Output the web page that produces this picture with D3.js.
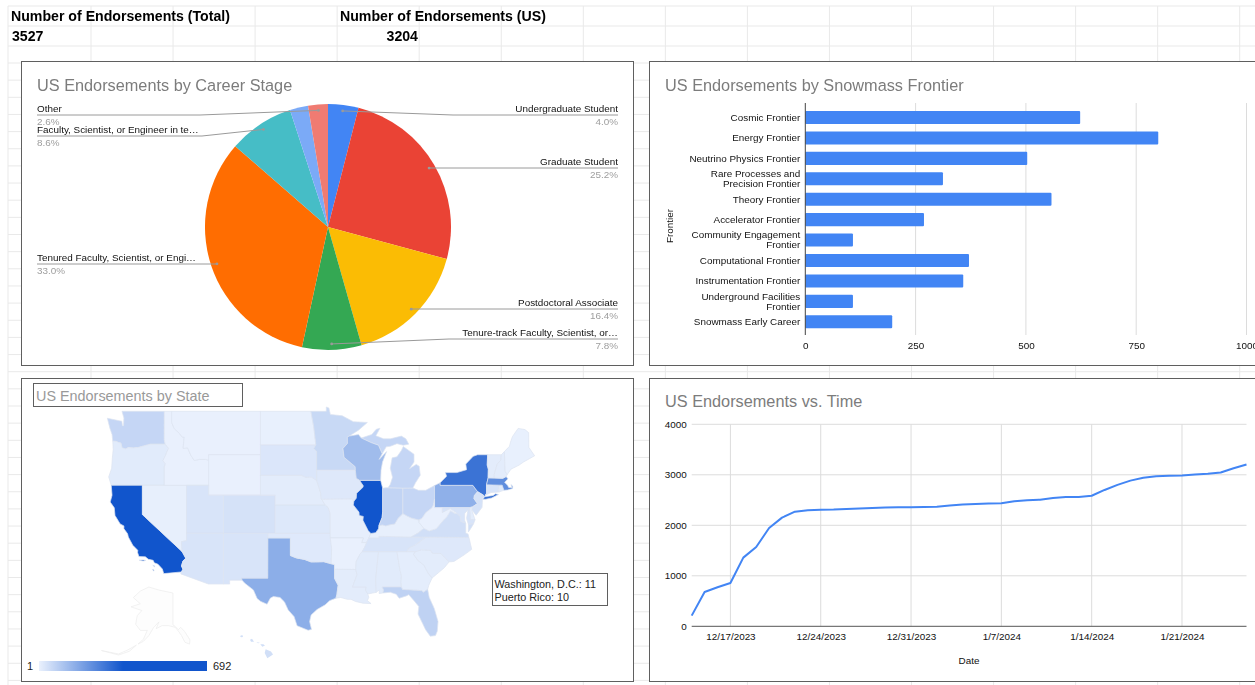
<!DOCTYPE html>
<html lang="en">
<head>
  <meta charset="utf-8">
  <title>US Endorsements</title>
  <script src="https://d3js.org/d3.v7.min.js"></script>
  <style>
    html, body { margin: 0; padding: 0; background: #fff; overflow: hidden; }
    svg { display: block; font-family: "Liberation Sans", Arial, sans-serif; filter: blur(0.45px); }
    .sheet-text { font-size: 14.15px; font-weight: bold; fill: #000; }
    .panel { fill: #fff; stroke: #5f5f5f; stroke-width: 1; }
    .chart-title { font-size: 16.3px; fill: #7c7c7c; }
    .small { font-size: 9.9px; fill: #111; }
    .pct { font-size: 9.9px; fill: #9e9e9e; }
    .grid line { stroke: #dcdcdc; stroke-width: 1; }
    .axis text { font-size: 9.9px; fill: #111; }
    .axis path, .axis line { display: none; }
  </style>
</head>
<body>
  <svg id="sheet" width="1255" height="685"></svg>

  <script>
    // ---- data ----
    const totalEndorsements = 3527;
    const usEndorsements = 3204;

    const careerStages = ['Undergraduate Student', 'Graduate Student', 'Postdoctoral Associate',
      'Tenure-track Faculty, Scientist, or…', 'Tenured Faculty, Scientist, or Engi…',
      'Faculty, Scientist, or Engineer in te…', '', 'Other'];
    const careerPercents = [4.0, 25.2, 16.4, 7.8, 33.0, 8.6, 2.4, 2.6];
    const careerColors = ['#4285f4', '#ea4335', '#fbbc04', '#34a853', '#ff6d01', '#46bdc6', '#7baaf7', '#f07b72'];

    const frontiers = ['Cosmic Frontier', 'Energy Frontier', 'Neutrino Physics Frontier',
      'Rare Processes and\nPrecision Frontier', 'Theory Frontier', 'Accelerator Frontier',
      'Community Engagement\nFrontier', 'Computational Frontier', 'Instrumentation Frontier',
      'Underground Facilities\nFrontier', 'Snowmass Early Career'];
    const frontierCounts = [623, 800, 503, 312, 558, 269, 108, 371, 358, 108, 197];
    const frontierTicks = [0, 250, 500, 750, 1000];

    // one value per day, 12/14/2023 to 1/26/2024
    const cumulativeCounts = [211, 680, 772, 858, 1360, 1571, 1947, 2152, 2270, 2297, 2310, 2312, 2323, 2335,
      2345, 2352, 2355, 2358, 2362, 2368, 2392, 2412, 2422, 2430, 2436, 2478, 2495, 2508, 2540, 2558, 2560,
      2585, 2700, 2800, 2885, 2940, 2972, 2980, 2988, 3005, 3020, 3045, 3130, 3204];
    const countTicks = [0, 1000, 2000, 3000, 4000];

    const stateValues = {
      WA: 60, OR: 15, CA: 692, NV: 5, ID: 3, MT: 3, WY: 3, UT: 30, CO: 35, AZ: 30, NM: 30, ND: 4, SD: 25,
      NE: 12, KS: 22, OK: 18, TX: 150, MN: 55, IA: 20, MO: 8, AR: 3, LA: 12, WI: 118, IL: 460, IN: 65,
      OH: 60, MI: 60, KY: 6, TN: 30, MS: 15, AL: 15, GA: 10, FL: 70, SC: 12, NC: 20, VA: 40, WV: 3,
      PA: 145, NY: 280, MD: 30, DE: 10, NJ: 35, CT: 30, RI: 15, MA: 220, VT: 12, NH: 12, ME: 4, HI: 40
    };
    const mapNotes = ['Washington, D.C.: 11', 'Puerto Rico: 10'];

    // rough state outlines, [lon, lat]
    const stateOutlines = {
      WA: [[[-124.73,48.38],[-123.1,48.15],[-122.78,48.12],[-122.7,47.7],[-122.55,47.7],[-122.5,48.4],[-122.76,49],[-117.03,49],[-117.04,46.42],[-116.92,46],[-118.98,46],[-119.3,45.93],[-120.5,45.7],[-121.2,45.65],[-121.9,45.68],[-122.3,45.55],[-122.75,45.65],[-122.9,46.1],[-123.2,46.15],[-123.55,46.26],[-124,46.27],[-124.1,46.9],[-124.4,47.5]]],
      OR: [[[-124,46.27],[-123.55,46.26],[-123.2,46.15],[-122.9,46.1],[-122.75,45.65],[-122.3,45.55],[-121.9,45.68],[-121.2,45.65],[-120.5,45.7],[-119.3,45.93],[-118.98,46],[-116.92,46],[-116.46,45.61],[-116.67,45.32],[-116.85,44.98],[-117.22,44.44],[-117.03,44.25],[-116.9,44.15],[-117.03,43.83],[-117.03,42],[-124.21,42],[-124.55,42.84],[-124.15,43.7],[-124.07,44.6],[-123.95,45.5]]],
      CA: [[[-124.21,42],[-120,42],[-120,39],[-114.63,35],[-114.14,34.27],[-114.52,33.95],[-114.72,33.4],[-114.52,33.03],[-114.72,32.72],[-117.12,32.53],[-117.3,33.05],[-117.9,33.6],[-118.4,33.75],[-118.55,34.03],[-119.2,34.15],[-119.6,34.42],[-120.47,34.45],[-120.65,34.9],[-120.63,35.15],[-121.3,35.7],[-121.9,36.6],[-122,36.95],[-122.5,37.5],[-122.5,37.8],[-123,38],[-123.7,38.9],[-123.8,39.7],[-124.35,40.3],[-124.1,41]],
        [[-120.45,34.05],[-119.9,34.08],[-119.55,34.02],[-119.9,33.95]], [[-118.6,33.47],[-118.35,33.4],[-118.35,33.3]], [[-118.6,33.05],[-118.4,32.85],[-118.55,32.85]]],
      NV: [[[-120,42],[-114.04,42],[-114.04,36.2],[-114.74,36.1],[-114.63,35],[-120,39]]],
      ID: [[[-117.03,49],[-116.05,49],[-116.05,48],[-115.7,47.45],[-115,47],[-114.6,46.65],[-114.35,46.65],[-114.5,45.6],[-113.9,45.65],[-113.45,44.95],[-113,44.45],[-112.3,44.55],[-111.5,44.55],[-111.05,44.48],[-111.05,42],[-117.03,42],[-117.03,43.83],[-116.9,44.15],[-117.03,44.25],[-117.22,44.44],[-116.85,44.98],[-116.67,45.32],[-116.46,45.61],[-116.92,46],[-117.04,46.42]]],
      MT: [[[-116.05,49],[-104.05,49],[-104.05,45],[-111.05,45],[-111.05,44.48],[-111.5,44.55],[-112.3,44.55],[-113,44.45],[-113.45,44.95],[-113.9,45.65],[-114.5,45.6],[-114.35,46.65],[-114.6,46.65],[-115,47],[-115.7,47.45],[-116.05,48]]],
      WY: [[[-111.05,45],[-104.05,45],[-104.05,41],[-111.05,41]]],
      UT: [[[-114.04,42],[-111.05,42],[-111.05,41],[-109.05,41],[-109.05,37],[-114.04,37]]],
      CO: [[[-109.05,41],[-102.05,41],[-102.05,37],[-109.05,37]]],
      AZ: [[[-114.04,37],[-109.05,37],[-109.05,31.33],[-111.07,31.33],[-114.81,32.5],[-114.72,32.72],[-114.52,33.03],[-114.72,33.4],[-114.52,33.95],[-114.14,34.27],[-114.63,35],[-114.74,36.1],[-114.04,36.2]]],
      NM: [[[-109.05,37],[-103,37],[-103.06,32],[-106.62,32],[-106.53,31.78],[-108.21,31.78],[-108.21,31.33],[-109.05,31.33]]],
      TX: [[[-106.62,32],[-103.06,32],[-103.04,36.5],[-100,36.5],[-100,34.56],[-99.2,34.3],[-98.1,34.13],[-97.2,33.85],[-96.6,33.85],[-95.5,33.88],[-94.48,33.64],[-94.04,33.55],[-94.04,33.02],[-94.04,31.99],[-93.55,31.2],[-93.72,30.1],[-93.84,29.69],[-94.7,29.4],[-95.3,28.9],[-96.4,28.35],[-97.2,27.7],[-97.4,26.9],[-97.15,25.96],[-97.6,25.85],[-99.1,26.4],[-99.5,27.5],[-100.3,28.3],[-100.8,29.25],[-101.4,29.77],[-102.3,29.88],[-102.7,29.7],[-103.15,28.98],[-104,29.3],[-104.5,29.65],[-105,30.65],[-106.2,31.45],[-106.53,31.78]]],
      OK: [[[-103,37],[-94.62,37],[-94.43,35.4],[-94.48,33.64],[-95.5,33.88],[-96.6,33.85],[-97.2,33.85],[-98.1,34.13],[-99.2,34.3],[-100,34.56],[-100,36.5],[-103.04,36.5]]],
      KS: [[[-102.05,40],[-95.3,40],[-94.9,39.75],[-94.62,39.1],[-94.62,37],[-102.05,37]]],
      NE: [[[-104.05,43],[-98.5,43],[-97.9,42.8],[-97.2,42.85],[-96.45,42.49],[-96.1,41.7],[-95.9,41.2],[-95.85,40.7],[-95.3,40],[-102.05,40],[-102.05,41],[-104.05,41]]],
      SD: [[[-104.05,45.94],[-96.56,45.94],[-96.85,45.6],[-96.45,45.3],[-96.45,43.5],[-96.45,42.49],[-97.2,42.85],[-97.9,42.8],[-98.5,43],[-104.05,43]]],
      ND: [[[-104.05,49],[-97.23,49],[-96.85,47.6],[-96.56,45.94],[-104.05,45.94]]],
      MN: [[[-97.23,49],[-95.15,49],[-95.15,49.38],[-94.8,49.3],[-94.6,48.72],[-93,48.6],[-91.5,48.07],[-89.6,48],[-90.8,47.3],[-92.05,46.75],[-92.3,46.66],[-92.29,46.07],[-92.9,45.6],[-92.75,44.75],[-91.25,43.85],[-91.22,43.5],[-96.45,43.5],[-96.45,45.3],[-96.85,45.6],[-96.56,45.94],[-96.85,47.6]]],
      IA: [[[-96.45,43.5],[-91.22,43.5],[-91.1,42.7],[-90.65,42.5],[-90.15,41.95],[-90.2,41.8],[-91.05,41.2],[-91.1,40.7],[-91.42,40.38],[-91.73,40.61],[-95.77,40.58],[-95.85,40.7],[-95.9,41.2],[-96.1,41.7],[-96.45,42.49]]],
      MO: [[[-95.77,40.58],[-91.73,40.61],[-91.42,40.38],[-91.5,40],[-90.73,39.25],[-90.7,38.9],[-90.15,38.8],[-90.2,38.4],[-89.5,37.3],[-89.13,36.98],[-89.4,36.5],[-89.7,36],[-90.37,36],[-90.15,36.5],[-94.62,36.5],[-94.62,39.1],[-94.9,39.75],[-95.3,40]]],
      AR: [[[-94.62,36.5],[-90.15,36.5],[-90.37,36],[-89.7,36],[-89.95,35.5],[-90.3,35],[-90.6,34.7],[-91.1,33.9],[-91.17,33],[-94.04,33.02],[-94.04,33.55],[-94.48,33.64],[-94.43,35.4]]],
      LA: [[[-94.04,33.02],[-91.17,33],[-91,32.4],[-91.6,31],[-89.75,31],[-89.85,30.65],[-89.55,30.18],[-89.4,29.8],[-89.6,29.4],[-89.1,29.05],[-90.2,29.1],[-91.2,29.3],[-91.8,29.55],[-92.3,29.55],[-93.2,29.77],[-93.84,29.69],[-93.72,30.1],[-93.55,31.2],[-94.04,31.99]]],
      MS: [[[-91.17,33],[-91.1,33.9],[-90.6,34.7],[-90.3,35],[-88.2,35],[-88.1,34.9],[-88.47,31.9],[-88.4,30.37],[-89.55,30.18],[-89.85,30.65],[-89.75,31],[-91.6,31],[-91,32.4]]],
      AL: [[[-88.2,35],[-85.6,35],[-85.18,32.87],[-85,32.3],[-85.05,31.55],[-85,31],[-87.6,31],[-87.42,30.65],[-87.5,30.3],[-88,30.23],[-88,30.65],[-88.4,30.37],[-88.47,31.9],[-88.1,34.9]]],
      GA: [[[-85.6,35],[-83.1,35],[-83.35,34.7],[-82.75,34],[-81.95,33.5],[-81.4,32.6],[-80.85,32.03],[-81.3,31.2],[-81.45,30.72],[-82.05,30.37],[-82.2,30.57],[-84.86,30.71],[-85,31],[-85.05,31.55],[-85,32.3],[-85.18,32.87]]],
      FL: [[[-87.6,31],[-85,31],[-84.86,30.71],[-82.2,30.57],[-82.05,30.37],[-81.45,30.72],[-81.25,29.8],[-80.55,28.45],[-80.05,26.9],[-80.15,25.75],[-80.4,25.2],[-81.1,25.13],[-81.75,25.95],[-82.15,26.7],[-82.75,27.8],[-82.65,28.7],[-83.3,29.4],[-84,30.1],[-84.35,29.95],[-85.3,29.68],[-85.7,30.15],[-86.5,30.38],[-87.5,30.3],[-87.42,30.65]]],
      SC: [[[-83.1,35],[-82.3,35.2],[-81.05,35.15],[-80.8,34.82],[-79.67,34.8],[-78.55,33.86],[-79.2,33.2],[-79.9,32.7],[-80.85,32.03],[-81.4,32.6],[-81.95,33.5],[-82.75,34],[-83.35,34.7]]],
      NC: [[[-84.32,35],[-84,35.4],[-83.1,35.75],[-82.6,36.05],[-81.68,36.59],[-75.87,36.55],[-75.5,35.25],[-76.5,34.65],[-77.9,33.9],[-78.55,33.86],[-79.67,34.8],[-80.8,34.82],[-81.05,35.15],[-82.3,35.2],[-83.1,35]]],
      TN: [[[-90.3,35],[-89.95,35.5],[-89.7,36],[-89.4,36.5],[-88.07,36.5],[-88.05,36.68],[-83.68,36.6],[-81.68,36.59],[-82.6,36.05],[-83.1,35.75],[-84,35.4],[-84.32,35],[-85.6,35],[-88.2,35]]],
      KY: [[[-89.4,36.5],[-89.13,36.98],[-88.47,37.07],[-88.1,37.5],[-88.05,37.8],[-87.6,37.9],[-87.1,37.8],[-86.5,37.93],[-85.9,38],[-85.45,38.6],[-84.8,39.1],[-84.25,38.85],[-83.65,38.63],[-82.6,38.42],[-82.6,38.15],[-81.97,37.54],[-82.7,37.05],[-83.68,36.6],[-88.05,36.68],[-88.07,36.5]]],
      IL: [[[-90.65,42.5],[-87.8,42.5],[-87.53,41.7],[-87.53,39.35],[-87.6,38.7],[-88.05,37.8],[-88.1,37.5],[-88.47,37.07],[-89.13,36.98],[-89.5,37.3],[-90.2,38.4],[-90.15,38.8],[-90.7,38.9],[-90.73,39.25],[-91.5,40],[-91.42,40.38],[-91.1,40.7],[-91.05,41.2],[-90.2,41.8],[-90.15,41.95]]],
      IN: [[[-87.53,41.7],[-87.2,41.75],[-86.8,41.76],[-84.8,41.72],[-84.8,39.1],[-85.45,38.6],[-85.9,38],[-86.5,37.93],[-87.1,37.8],[-87.6,37.9],[-88.05,37.8],[-87.6,38.7],[-87.53,39.35]]],
      OH: [[[-84.8,41.72],[-83.45,41.73],[-82.7,41.5],[-81.7,41.5],[-80.52,41.98],[-80.52,40.64],[-80.65,40],[-80.85,39.7],[-81.7,39.2],[-82.2,38.6],[-82.6,38.42],[-83.65,38.63],[-84.25,38.85],[-84.8,39.1]]],
      MI: [[[-86.8,41.76],[-84.8,41.72],[-83.45,41.73],[-83.1,42.25],[-82.45,43],[-82.6,43.9],[-83,44.07],[-83.9,43.65],[-83.3,44.3],[-83.3,45.05],[-84.75,45.78],[-85,45.4],[-85.6,44.8],[-86.25,44.7],[-86.5,43.7],[-86.2,42.8],[-86.5,42.1]],
        [[-90.42,46.57],[-89,46.9],[-88.4,47.38],[-87.9,47.47],[-88.45,46.78],[-87.4,46.5],[-86.5,46.5],[-85,46.75],[-84.4,46.5],[-84,46],[-84.75,45.9],[-85.6,46.05],[-86.5,45.8],[-87.05,45.75],[-87.6,45.1],[-88.1,45.9],[-89.1,46.15]]],
      WI: [[[-92.3,46.66],[-92.05,46.75],[-90.8,46.9],[-90.42,46.57],[-89.1,46.15],[-88.1,45.9],[-87.6,45.1],[-88,44.55],[-87.0,45.3],[-87.55,44.3],[-87.75,43.5],[-87.8,42.5],[-90.65,42.5],[-91.1,42.7],[-91.22,43.5],[-91.25,43.85],[-92.75,44.75],[-92.9,45.6],[-92.29,46.07]]],
      PA: [[[-80.52,41.98],[-79.76,42.27],[-79.76,42],[-75.35,42],[-74.7,41.36],[-75.13,40.98],[-75.2,40.65],[-74.72,40.15],[-75.4,39.8],[-75.79,39.72],[-80.52,39.72],[-80.52,40.64]]],
      NY: [[[-79.76,42.27],[-78.9,42.9],[-79.05,43.27],[-77.5,43.27],[-76.2,43.55],[-76.3,44.1],[-75.3,44.85],[-74.7,45],[-73.35,45],[-73.4,44],[-73.25,43.6],[-73.28,42.75],[-73.5,42.05],[-73.49,41.2],[-73.65,41],[-73.9,40.8],[-73.9,41],[-74.7,41.36],[-75.35,42],[-79.76,42]],
        [[-74.03,40.6],[-73.75,40.85],[-72.6,40.98],[-72.3,41.15],[-71.87,41.07],[-72.8,40.72],[-73.6,40.58]]],
      NJ: [[[-74.7,41.36],[-73.9,41],[-74.05,40.45],[-74.1,39.75],[-74.9,38.93],[-75.5,39.5],[-75.4,39.8],[-74.72,40.15],[-75.2,40.65],[-75.13,40.98]]],
      DE: [[[-75.79,39.72],[-75.4,39.8],[-75.5,39.5],[-75.05,38.45],[-75.7,38.46]]],
      MD: [[[-79.48,39.72],[-75.79,39.72],[-75.7,38.46],[-75.05,38.45],[-75.25,38.03],[-75.95,37.95],[-76.2,38.6],[-76,39.5],[-76.45,39.1],[-76.45,38.4],[-76.3,38.05],[-77,38.3],[-77.05,38.8],[-77.5,39.1],[-77.75,39.3],[-78.4,39.62],[-79.48,39.2]]],
      VA: [[[-83.68,36.6],[-81.68,36.59],[-75.87,36.55],[-76,36.93],[-76.3,37],[-76.3,37.6],[-76.3,38.05],[-77,38.3],[-77.05,38.8],[-77.5,39.1],[-77.83,39.13],[-78.35,39.4],[-78.87,38.76],[-79.3,38.42],[-80.3,37.5],[-81.25,37.25],[-81.97,37.54],[-82.7,37.05]],
        [[-75.25,38.03],[-75.95,37.95],[-75.95,37.15],[-75.6,37.55]]],
      WV: [[[-82.6,38.42],[-82.2,38.6],[-81.7,39.2],[-80.85,39.7],[-80.65,40],[-80.52,40.64],[-80.52,39.72],[-79.48,39.72],[-79.48,39.2],[-78.4,39.62],[-77.75,39.3],[-77.83,39.13],[-78.35,39.4],[-78.87,38.76],[-79.3,38.42],[-80.3,37.5],[-81.25,37.25],[-81.97,37.54],[-82.6,38.15]]],
      CT: [[[-73.49,41.2],[-73.5,42.05],[-71.8,42.02],[-71.85,41.32],[-72.9,41.27],[-73.65,41]]],
      RI: [[[-71.8,42.02],[-71.38,42.02],[-71.15,41.5],[-71.85,41.32]]],
      MA: [[[-73.5,42.05],[-73.28,42.75],[-71.3,42.7],[-70.85,42.88],[-70.6,42.65],[-71.05,42.3],[-70.65,42],[-70.5,41.78],[-70.05,41.78],[-70.2,42.08],[-69.95,41.9],[-69.97,41.67],[-70.65,41.53],[-71.15,41.5],[-71.38,42.02],[-71.8,42.02]]],
      VT: [[[-73.35,45],[-71.5,45],[-71.55,44.5],[-72.05,44.1],[-72.45,43.1],[-72.46,42.73],[-73.28,42.75],[-73.25,43.6],[-73.4,44]]],
      NH: [[[-71.5,45],[-71.08,45.3],[-70.98,43.4],[-70.7,43.07],[-70.85,42.88],[-71.3,42.7],[-72.46,42.73],[-72.45,43.1],[-72.05,44.1],[-71.55,44.5]]],
      ME: [[[-71.08,45.3],[-70.4,45.8],[-70.25,46.2],[-70,46.7],[-69.23,47.46],[-68.3,47.35],[-67.8,47.07],[-67.78,45.7],[-67,44.9],[-68.5,44.3],[-69.1,44],[-70.2,43.6],[-70.7,43.07],[-70.98,43.4]]]
    };
    const hawaiiOutlines = [
      [[-155.9,20.25],[-155.1,19.9],[-154.8,19.5],[-155.65,18.95],[-156.05,19.7]],
      [[-156.7,20.95],[-156.25,20.95],[-156,20.75],[-156.4,20.58]],
      [[-157.3,21.2],[-156.75,21.15],[-157.05,21.08]],
      [[-158.25,21.55],[-157.95,21.7],[-157.65,21.3],[-158.1,21.3]],
      [[-159.75,22.1],[-159.4,22.23],[-159.3,21.95],[-159.6,21.9]]
    ];
    const alaskaOutlines = [
      [[-141,69.65],[-141,60.3],[-139.6,59.9],[-137.5,58.9],[-136,59.6],[-133.5,58.4],[-130,55.9],[-130.3,54.7],[-133.2,55.2],[-135.5,57.2],[-137,58.2],[-139.5,59.6],[-144,60.1],[-148,60.1],[-151.8,59.2],[-150,61.2],[-153.5,59.5],[-156.5,57.2],[-160,55.5],[-163.5,54.7],[-160,56.1],[-157.5,58.7],[-162,58.7],[-165,60.5],[-164,63],[-161,64.5],[-168,65.6],[-162,66.5],[-166.5,68.3],[-162,70.2],[-156.5,71.4],[-150,70.5]],
      [[-164.5,54.4],[-170,53],[-176,51.8],[-187,52.8],[-176,51.5],[-169,52.6]]
    ];

    // ---- drawing ----
    const svg = d3.select('#sheet');

    // spreadsheet behind the charts
    const sheetCols = d3.range(91, 1255, 82.05);
    const sheetRows = [26, 46, ...d3.range(63, 685, 17.15)];
    const sheetGrid = svg.append('g').attr('stroke', '#e9e9e9').attr('stroke-width', 1);
    sheetGrid.selectAll('.col').data(sheetCols).join('line')
      .attr('x1', d => d).attr('x2', d => d).attr('y1', 6).attr('y2', 685);
    sheetGrid.selectAll('.row').data(sheetRows).join('line')
      .attr('x1', 8).attr('x2', 1255).attr('y1', d => d).attr('y2', d => d);
    sheetGrid.append('line').attr('x1', 8).attr('x2', 8).attr('y1', 6).attr('y2', 685);
    sheetGrid.append('line').attr('x1', 8).attr('x2', 1255).attr('y1', 6).attr('y2', 6);

    svg.append('text').attr('class', 'sheet-text').attr('x', 11).attr('y', 21).text('Number of Endorsements (Total)');
    svg.append('text').attr('class', 'sheet-text').attr('x', 340).attr('y', 21).text('Number of Endorsements (US)');
    svg.append('text').attr('class', 'sheet-text').attr('x', 12).attr('y', 41).text(totalEndorsements);
    svg.append('text').attr('class', 'sheet-text').attr('x', 418).attr('y', 41).attr('text-anchor', 'end').text(usEndorsements);

    function addPanel(x, y, w, h, title, titleX, titleY) {
      svg.append('rect').attr('class', 'panel').attr('x', x).attr('y', y).attr('width', w).attr('height', h);
      return svg.append('text').attr('class', 'chart-title').attr('x', titleX).attr('y', titleY).text(title);
    }

    // pie
    addPanel(21.5, 61.5, 612, 304, 'US Endorsements by Career Stage', 37, 90.5);
    const pieG = svg.append('g').attr('transform', 'translate(328,227)');
    const slices = d3.pie().sort(null).value(d => d)(careerPercents);
    const sliceArc = d3.arc().innerRadius(0).outerRadius(123);
    const dotArc = d3.arc().innerRadius(117).outerRadius(117);
    pieG.selectAll('path').data(slices).join('path')
      .attr('d', sliceArc)
      .attr('fill', (d, i) => careerColors[i]);

    // label rows and elbows of the leader lines, page coordinates
    const leaderRow = [115, 168, 309, 339, 264, 136, null, 115];
    const leaderElbow = [453, null, null, 449, null, 202, null, 200];
    const leaders = svg.append('g');
    slices.forEach((s, i) => {
      if (!careerStages[i]) return;
      const [cx, cy] = dotArc.centroid(s);
      const px = cx + 328, py = cy + 227;
      const right = (s.startAngle + s.endAngle) / 2 < Math.PI;
      const edge = right ? 618 : 37;
      const pts = leaderElbow[i] ? [[px, py], [leaderElbow[i], leaderRow[i]], [edge, leaderRow[i]]] : [[px, leaderRow[i]], [edge, leaderRow[i]]];
      leaders.append('path').attr('d', d3.line()(pts)).attr('fill', 'none').attr('stroke', '#9a9a9a').attr('stroke-width', 1);
      leaders.append('circle').attr('cx', px).attr('cy', py).attr('r', 1.4).attr('fill', '#9a9a9a');
      leaders.append('text').attr('class', 'small').attr('x', edge).attr('y', leaderRow[i] - 3)
        .attr('text-anchor', right ? 'end' : 'start').text(careerStages[i]);
      leaders.append('text').attr('class', 'pct').attr('x', edge).attr('y', leaderRow[i] + 9.5)
        .attr('text-anchor', right ? 'end' : 'start').text(careerPercents[i].toFixed(1) + '%');
    });

    // horizontal bars
    addPanel(649.5, 61.5, 640, 304, 'US Endorsements by Snowmass Frontier', 665, 90.5);
    const barX = d3.scaleLinear().domain([0, 1000]).range([805.3, 1246.5]);
    const barY = d3.scaleBand().domain(frontiers).range([107.3, 332]).paddingInner(0.36).paddingOuter(0.18);
    svg.append('g').attr('class', 'grid').selectAll('line').data(frontierTicks.slice(1)).join('line')
      .attr('x1', d => barX(d)).attr('x2', d => barX(d)).attr('y1', 103).attr('y2', 335);
    svg.append('g').selectAll('rect').data(frontiers).join('rect')
      .attr('x', barX(0))
      .attr('y', d => barY(d))
      .attr('width', (d, i) => barX(frontierCounts[i]) - barX(0))
      .attr('height', barY.bandwidth())
      .attr('rx', 1)
      .attr('fill', '#4285f4');
    svg.append('line').attr('x1', barX(0)).attr('x2', barX(0)).attr('y1', 103).attr('y2', 335)
      .attr('stroke', '#444').attr('stroke-width', 1);
    svg.append('g').attr('class', 'axis').attr('transform', 'translate(0,349)')
      .call(d3.axisBottom(barX).tickValues(frontierTicks).tickFormat(d3.format('d')).tickSize(0).tickPadding(0))
      .selectAll('text').attr('dy', 0);
    const barLabels = svg.append('g').attr('class', 'axis').attr('transform', `translate(${barX(0)},0)`)
      .call(d3.axisLeft(barY).tickSize(0).tickPadding(5));
    barLabels.selectAll('text').each(function (d) {
      const lines = d.split('\n');
      const t = d3.select(this).text(null).attr('dy', null);
      lines.forEach((line, k) => {
        t.append('tspan').attr('x', -5).attr('y', 3.4 + (k - (lines.length - 1) / 2) * 10).text(line);
      });
    });
    svg.append('text').attr('class', 'small')
      .attr('transform', 'translate(673,226) rotate(-90)').attr('text-anchor', 'middle').text('Frontier');

    // map
    addPanel(21.5, 378.5, 612, 303, 'US Endorsements by State', 36, 400.5)
      .style('font-size', '14.4px').style('fill', '#999');
    svg.append('rect').attr('x', 33.5).attr('y', 383.5).attr('width', 209).attr('height', 23)
      .attr('fill', 'none').attr('stroke', '#5f5f5f');

    const mapColor = d3.scaleLinear().domain([1, 346]).range(['#eaf1fd', '#1155cc']).clamp(true);
    const mainland = d3.geoMercator().scale(424).center([-96, 38]).translate([320, 524]);
    const hawaii = d3.geoMercator().scale(382).center([-157.5, 20.55]).translate([255, 647]);
    const akX = d3.scaleLinear().domain([-168, -130]).range([131, 190]);
    const akY = d3.scaleLinear().domain([71.4, 51.5]).range([587, 655]);
    const ringPath = (ring, project) => d3.line()(ring.map(project)) + 'Z';

    const mapG = svg.append('g').attr('stroke', '#dde4f1').attr('stroke-width', 0.7).attr('stroke-linejoin', 'round');
    mapG.selectAll('.state').data(Object.keys(stateOutlines)).join('path')
      .attr('d', d => stateOutlines[d].map(r => ringPath(r, mainland)).join(''))
      .attr('fill', d => mapColor(stateValues[d]));
    mapG.append('g').selectAll('path').data(hawaiiOutlines).join('path')
      .attr('d', d => ringPath(d, hawaii))
      .attr('fill', mapColor(stateValues.HI)).attr('stroke', 'none');
    mapG.append('g').selectAll('path').data(alaskaOutlines).join('path')
      .attr('d', d => ringPath(d, p => [akX(p[0]), akY(p[1])]))
      .attr('fill', '#fdfdfd').attr('stroke', '#ececec');

    svg.append('rect').attr('x', 492.5).attr('y', 573.5).attr('width', 115).attr('height', 32)
      .attr('fill', '#fff').attr('stroke', '#5f5f5f');
    svg.append('g').selectAll('text').data(mapNotes).join('text')
      .attr('x', 494.5).attr('y', (d, i) => 587.5 + i * 13.5)
      .attr('font-size', 10.8).attr('fill', '#222').text(d => d);

    const legendX = d3.scaleLinear().domain([1, 692]).range([39, 207]);
    const grad = svg.append('defs').append('linearGradient').attr('id', 'legend-grad');
    const mapStops = [1, 346, 692];
    grad.selectAll('stop').data(mapStops).join('stop')
      .attr('offset', d => (legendX(d) - 39) / 168)
      .attr('stop-color', d => mapColor(d));
    svg.append('rect').attr('x', legendX(1)).attr('y', 661).attr('width', legendX(692) - legendX(1)).attr('height', 10)
      .attr('fill', 'url(#legend-grad)');
    svg.append('text').attr('x', 27).attr('y', 670).attr('font-size', 11).attr('fill', '#222').text(1);
    svg.append('text').attr('x', 213).attr('y', 670).attr('font-size', 11).attr('fill', '#222').text(692);

    // line
    addPanel(649.5, 378.5, 640, 303, 'US Endorsements vs. Time', 665, 406.5);
    const dayList = d3.timeDay.range(new Date(2023, 11, 14), new Date(2024, 0, 27));
    const weekTicks = d3.timeDay.range(new Date(2023, 11, 17), new Date(2024, 0, 22), 7);
    const timeX = d3.scaleTime().domain([dayList[0], dayList[dayList.length - 1]]).range([691.7, 1246.5]);
    const countY = d3.scaleLinear().domain([0, 4000]).range([626.3, 424.3]);
    const lineGrid = svg.append('g').attr('class', 'grid');
    lineGrid.selectAll('.h').data(countTicks.slice(1)).join('line')
      .attr('x1', 691.7).attr('x2', 1246.5).attr('y1', d => countY(d)).attr('y2', d => countY(d));
    lineGrid.selectAll('.v').data(weekTicks).join('line')
      .attr('x1', d => timeX(d)).attr('x2', d => timeX(d)).attr('y1', 424.3).attr('y2', 626.3);
    svg.append('line').attr('x1', 691.7).attr('x2', 1246.5).attr('y1', countY(0)).attr('y2', countY(0))
      .attr('stroke', '#555').attr('stroke-width', 1);
    svg.append('path').datum(cumulativeCounts)
      .attr('fill', 'none').attr('stroke', '#4285f4').attr('stroke-width', 2).attr('stroke-linejoin', 'round')
      .attr('d', d3.line().x((d, i) => timeX(dayList[i])).y(d => countY(d)));
    svg.append('g').attr('class', 'axis').attr('transform', 'translate(0,640)')
      .call(d3.axisBottom(timeX).tickValues(weekTicks).tickFormat(d3.timeFormat('%-m/%-d/%Y')).tickSize(0).tickPadding(0))
      .selectAll('text').attr('dy', 0);
    svg.append('g').attr('class', 'axis').attr('transform', 'translate(691.7,0)')
      .call(d3.axisLeft(countY).tickValues(countTicks).tickFormat(d3.format('d')).tickSize(0).tickPadding(5));
    svg.append('text').attr('class', 'small').attr('x', 969).attr('y', 663.5).attr('text-anchor', 'middle').text('Date');
  </script>
</body>
</html>
